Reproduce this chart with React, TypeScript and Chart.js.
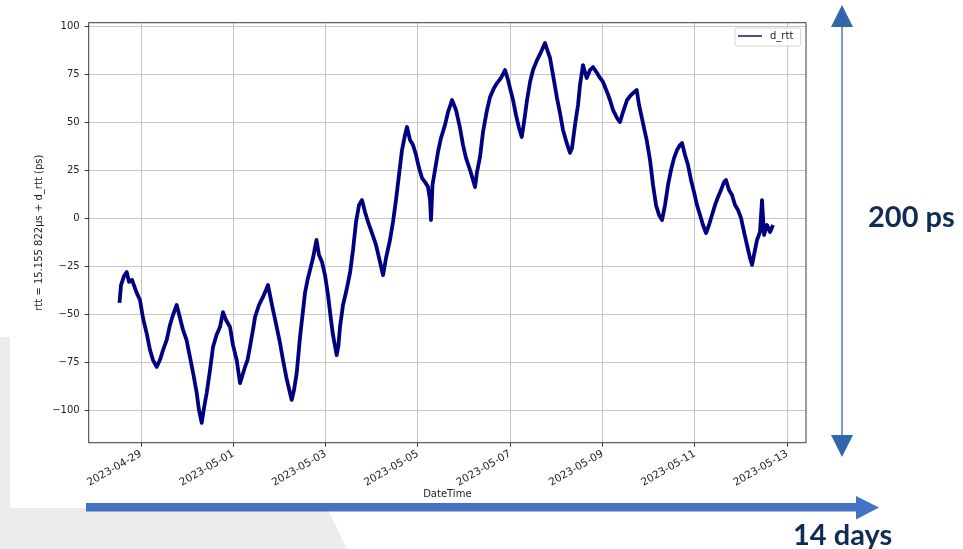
import { useEffect, useRef } from 'react';
import { Chart, registerables } from 'chart.js';

Chart.register(...registerables);

// Sample times, in days since 2023-04-29 00:00
const dayOffsets = [
  -0.466, -0.433, -0.368, -0.31, -0.26, -0.195, -0.093, -0.022, 0.043, 0.13,
  0.195, 0.26, 0.34, 0.41, 0.477, 0.557, 0.628, 0.693, 0.773, 0.845,
  0.91, 0.986, 1.06, 1.137, 1.207, 1.256, 1.315, 1.365, 1.423, 1.495,
  1.56, 1.636, 1.711, 1.776, 1.841, 1.928, 1.993, 2.073, 2.145, 2.2,
  2.253, 2.307, 2.36, 2.426, 2.47, 2.556, 2.643, 2.708, 2.751, 2.838,
  2.94, 3.011, 3.076, 3.152, 3.228, 3.265, 3.315, 3.373, 3.445, 3.499,
  3.553, 3.607, 3.661, 3.726, 3.802, 3.856, 3.921, 3.986, 4.051, 4.116,
  4.159, 4.239, 4.278, 4.311, 4.376, 4.452, 4.528, 4.593, 4.658, 4.723,
  4.788, 4.853, 4.918, 5.004, 5.091, 5.178, 5.243, 5.308, 5.394, 5.459,
  5.524, 5.589, 5.654, 5.719, 5.762, 5.828, 5.893, 5.958, 6.023, 6.088,
  6.153, 6.218, 6.261, 6.283, 6.315, 6.369, 6.434, 6.499, 6.586, 6.651,
  6.738, 6.824, 6.911, 6.976, 7.041, 7.128, 7.193, 7.236, 7.279, 7.344,
  7.409, 7.496, 7.561, 7.647, 7.713, 7.799, 7.886, 7.951, 7.994, 8.059,
  8.124, 8.189, 8.248, 8.298, 8.363, 8.428, 8.492, 8.579, 8.666, 8.752,
  8.817, 8.861, 8.926, 9.012, 9.077, 9.142, 9.222, 9.294, 9.337, 9.402,
  9.467, 9.51, 9.575, 9.655, 9.727, 9.792, 9.879, 9.944, 10.009, 10.095,
  10.16, 10.225, 10.312, 10.377, 10.442, 10.529, 10.615, 10.739, 10.789, 10.847,
  10.897, 10.955, 11.027, 11.092, 11.157, 11.222, 11.287, 11.352, 11.417, 11.482,
  11.547, 11.612, 11.677, 11.72, 11.785, 11.85, 11.915, 11.98, 12.045, 12.11,
  12.175, 12.24, 12.305, 12.37, 12.435, 12.5, 12.565, 12.63, 12.673, 12.738,
  12.803, 12.868, 12.933, 12.998, 13.063, 13.128, 13.193, 13.237, 13.28, 13.345,
  13.41, 13.453, 13.497, 13.562, 13.627, 13.692,
];

// d_rtt in picoseconds at each sample time
const dRtt = [
  -44, -34.7, -30, -27.9, -33, -32, -38.8, -42.5, -51.9, -60.7,
  -68.6, -73.8, -77.4, -73.8, -68.6, -63.3, -55.5, -50.3, -45.1, -51.9,
  -58.1, -63.3, -72.2, -81.6, -91, -99.8, -106.6, -98.8, -91, -79,
  -67, -60.7, -56.6, -48.8, -52.9, -56.6, -66, -73.8, -85.8, -81.6,
  -77.4, -73.8, -67, -58.1, -51.4, -45.1, -40.9, -37.3, -34.7, -45.1,
  -56.6, -64.9, -73.8, -83.2, -91, -94.6, -89.4, -80.6, -61.8, -50.3,
  -38.8, -32.1, -26.9, -20.6, -11.2, -19, -22.7, -29.5, -39.9, -52.9,
  -60.7, -71.2, -66, -56.6, -45.1, -37.3, -28.4, -16.4, -1.8, 7,
  9.6, 3.4, -1.8, -7.6, -13.8, -22.7, -29.5, -20.6, -11.2, -1.8,
  9.6, 22.7, 35.7, 43.5, 47.7, 40.9, 38.3, 33.1, 26.3, 21.1,
  19, 16.4, 9.6, -0.8, 17.5, 25.3, 34.7, 42, 48.8, 55.5,
  61.8, 56.6, 47.2, 38.3, 31.5, 25.3, 20.1, 16.4, 24.2, 32.1,
  45.1, 56.6, 63.3, 68, 70.6, 73.3, 77.4, 72.2, 68, 61.8,
  53.9, 47.2, 42.5, 50.3, 61.8, 71.2, 77.4, 82.6, 86.8, 91.5,
  86.8, 83.7, 74.8, 62.8, 55, 46.2, 39.4, 34.2, 36.8, 48.8,
  59.2, 69.6, 80, 73.3, 77.4, 79, 75.9, 73.3, 71.2, 66,
  61.8, 56.6, 52.4, 50.3, 55.5, 61.8, 64.4, 67, 59.2, 52.9,
  47.2, 40.9, 30.5, 17.5, 7, 1.8, -0.8, 7, 17.5, 25.3,
  31.5, 35.7, 38.3, 39.4, 33.1, 27.9, 20.1, 13.8, 7, 1.8,
  -3.4, -7.6, -3.4, 1.8, 7, 11.2, 14.9, 19, 20.1, 14.9,
  12.3, 7, 4.4, 0.3, -7, -13.8, -20.6, -24.2, -19, -11.2,
  -7, 9.6, -8.6, -3.4, -7, -3.4,
];

const dateTickOffsets = [0, 2, 4, 6, 8, 10, 12, 14];
const dateTickLabels = [
  '2023-04-29', '2023-05-01', '2023-05-03', '2023-05-05',
  '2023-05-07', '2023-05-09', '2023-05-11', '2023-05-13',
];
const rttTicks = [-100, -75, -50, -25, 0, 25, 50, 75, 100];

const seriesLabel = 'd_rtt';
const xAxisTitle = 'DateTime';
const yAxisTitle = 'rtt = 15.155 822µs + d_rtt (ps)';
const rttSpanNote = '200 ps';
const timeSpanNote = '14 days';

const LINE_COLOR = '#000080';
const TEXT_COLOR = '#222222';
const GRID_COLOR = '#c6c6c6';
const SPINE_COLOR = '#3a3a3a';
const FONT = "'DejaVu Sans', sans-serif";

// Frame around the plotting area plus an in-axes legend box
const frameAndLegend = {
  id: 'frameAndLegend',
  afterDatasetsDraw(chart: any) {
    const { ctx, chartArea } = chart;
    const { left, right, top, bottom } = chartArea;
    ctx.save();

    const bw = 65.7;
    const bh = 18;
    const bx = right - 5.3 - bw;
    const by = top + 5.3;
    ctx.beginPath();
    ctx.roundRect(bx, by, bw, bh, 2);
    ctx.fillStyle = 'rgba(255,255,255,0.85)';
    ctx.fill();
    ctx.strokeStyle = '#d4d4d4';
    ctx.lineWidth = 1;
    ctx.stroke();

    const ly = by + 8;
    ctx.beginPath();
    ctx.moveTo(bx + 3, ly);
    ctx.lineTo(bx + 27, ly);
    ctx.strokeStyle = '#23236e';
    ctx.lineWidth = 1.6;
    ctx.stroke();

    ctx.fillStyle = TEXT_COLOR;
    ctx.font = `10px ${FONT}`;
    ctx.textBaseline = 'middle';
    ctx.textAlign = 'left';
    ctx.fillText(chart.data.datasets[0].label, bx + 35, ly);

    ctx.strokeStyle = SPINE_COLOR;
    ctx.lineWidth = 1;
    ctx.strokeRect(left, top, right - left, bottom - top);
    ctx.restore();
  },
};

function RttChart() {
  const canvasRef = useRef<HTMLCanvasElement | null>(null);

  useEffect(() => {
    const canvas = canvasRef.current;
    if (!canvas) return;
    const points = dayOffsets.map((d, i) => ({ x: d, y: dRtt[i] }));

    const chart = new Chart(canvas, {
      type: 'line',
      data: {
        datasets: [
          {
            label: seriesLabel,
            data: points,
            borderColor: LINE_COLOR,
            backgroundColor: LINE_COLOR,
            borderWidth: 3.8,
            borderJoinStyle: 'round',
            pointRadius: 0,
            tension: 0,
            fill: false,
          },
        ],
      },
      options: {
        responsive: false,
        animation: false,
        devicePixelRatio: 1,
        layout: { padding: { top: 22.7, right: 29, left: 0, bottom: 0 } },
        plugins: {
          legend: { display: false },
          tooltip: { enabled: false },
        },
        scales: {
          x: {
            type: 'linear',
            min: -1.133,
            max: 14.406,
            afterBuildTicks: (scale: any) => {
              scale.ticks = dateTickOffsets.map((v) => ({ value: v }));
            },
            afterFit: (scale: any) => {
              scale.height = 65.3;
            },
            ticks: {
              autoSkip: false,
              minRotation: 30,
              maxRotation: 30,
              padding: 1,
              color: TEXT_COLOR,
              font: { family: FONT, size: 10.5 },
              callback: (_v: any, i: number) => dateTickLabels[i],
            },
            grid: {
              color: GRID_COLOR,
              lineWidth: 1,
              tickColor: SPINE_COLOR,
              tickLength: 4,
            },
            border: { display: false },
            title: {
              display: true,
              text: xAxisTitle,
              color: TEXT_COLOR,
              font: { family: FONT, size: 10 },
              padding: { top: 0, bottom: 8 },
            },
          },
          y: {
            type: 'linear',
            min: -116.9,
            max: 102.1,
            afterBuildTicks: (scale: any) => {
              scale.ticks = rttTicks.map((v) => ({ value: v }));
            },
            afterFit: (scale: any) => {
              scale.width = 78.7;
            },
            ticks: {
              padding: 5,
              color: TEXT_COLOR,
              font: { family: FONT, size: 10 },
              callback: (v: any) => (v < 0 ? '\u2212' + Math.abs(v) : String(v)),
            },
            grid: {
              color: GRID_COLOR,
              lineWidth: 1,
              tickColor: SPINE_COLOR,
              tickLength: 4,
            },
            border: { display: false },
            title: {
              display: true,
              text: yAxisTitle,
              color: TEXT_COLOR,
              font: { family: FONT, size: 10 },
              padding: { top: 23.5, bottom: 0 },
            },
          },
        },
      },
      plugins: [frameAndLegend],
    } as any);

    return () => chart.destroy();
  }, []);

  return (
    <canvas
      ref={canvasRef}
      width={825}
      height={508}
      style={{ position: 'absolute', left: 10, top: 0, width: 825, height: 508, background: '#ffffff' }}
    />
  );
}

export default function App() {
  return (
    <div
      style={{
        position: 'absolute',
        left: 0,
        top: 0,
        width: 963,
        height: 549,
        overflow: 'hidden',
        background: '#ffffff',
      }}
    >
      <svg width={963} height={549} style={{ position: 'absolute', left: 0, top: 0 }}>
        <polygon points="0,337 244,337 347,549 0,549" fill="#ececec" />
      </svg>
      <RttChart />
      <svg width={963} height={549} style={{ position: 'absolute', left: 0, top: 0 }}>
        {/* vertical span arrow */}
        <line x1={842} y1={26} x2={842} y2={436} stroke="#5f82c2" strokeWidth={1.6} />
        <polygon points="842,5 831,27 853,27" fill="#3166ab" />
        <polygon points="831,435 853,435 842,457" fill="#3166ab" />
        {/* horizontal span arrow */}
        <rect x={86} y={503} width={771} height={8.5} fill="#4472c4" />
        <polygon points="856,496 856,519.5 879,507.5" fill="#4472c4" />
        <text
          x={868}
          y={227}
          fontFamily="Lato, 'Open Sans', sans-serif"
          fontWeight={700}
          fontSize={29}
          fill="#0f2d52"
        >
          {rttSpanNote}
        </text>
        <text
          x={793}
          y={545}
          fontFamily="Lato, 'Open Sans', sans-serif"
          fontWeight={700}
          fontSize={29}
          fill="#0f2d52"
        >
          {timeSpanNote}
        </text>
      </svg>
    </div>
  );
}
